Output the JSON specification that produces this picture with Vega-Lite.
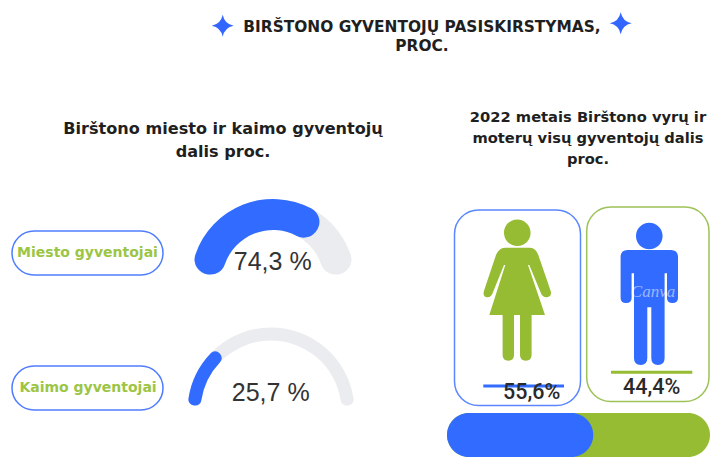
{
"width":710,"height":457,"autosize":{"type":"fit","contains":"padding"},"padding":0,
"background":"white",
"config":{"view":{"stroke":null}},
"datasets":{
"gauges":[{"label":"Miesto gyventojai","value":74.3,"total":100,"text":"74,3 %"},{"label":"Kaimo gyventojai","value":25.7,"total":100,"text":"25,7 %"}],
"sexes":[{"sex":"Moterys","value":55.6,"total":100,"text":"55,6%"},{"sex":"Vyrai","value":44.4,"total":100,"text":"44,4%"}],
"titles":[{"id":"main","text":"BIRŠTONO GYVENTOJŲ PASISKIRSTYMAS,\nPROC."},{"id":"left","text":"Birštono miesto ir kaimo gyventojų\ndalis proc."},{"id":"right","text":"2022 metais Birštono vyrų ir\nmoterų visų gyventojų dalis\nproc."}]
},
"data":{"name":"gauges"},
"resolve":{"scale":{"x":"independent","y":"independent","theta":"independent"}},
"layer":[
{"data":{"name":"titles"},"transform":[{"filter":"datum.id==='main'"}],
 "mark":{"type":"text","font":"DejaVu Sans","fontWeight":700,"fontSize":15.4,"lineBreak":"\n","lineHeight":19,"color":"#1f1f1f","align":"center","baseline":"middle"},
 "encoding":{"text":{"field":"text"},"x":{"datum":422,"type":"quantitative","axis":null,"scale":{"domain":[0,710],"range":[0,710]}},"y":{"datum":27,"type":"quantitative","axis":null,"scale":{"domain":[0,457],"range":[0,457]}}}},
{"data":{"name":"titles"},"transform":[{"filter":"datum.id==='main'"}],
 "mark":{"type":"point","filled":true,"size":4,"opacity":1,"color":"#3366ff","shape":"M0,-11 Q1.8,-1.8 11,0 Q1.8,1.8 0,11 Q-1.8,1.8 -11,0 Q-1.8,-1.8 0,-11 Z"},
 "encoding":{"x":{"datum":222.7,"type":"quantitative","axis":null,"scale":{"domain":[0,710],"range":[0,710]}},"y":{"datum":25.7,"type":"quantitative","axis":null,"scale":{"domain":[0,457],"range":[0,457]}}}},
{"data":{"name":"titles"},"transform":[{"filter":"datum.id==='main'"}],
 "mark":{"type":"point","filled":true,"size":4,"opacity":1,"color":"#3366ff","shape":"M0,-11 Q1.8,-1.8 11,0 Q1.8,1.8 0,11 Q-1.8,1.8 -11,0 Q-1.8,-1.8 0,-11 Z"},
 "encoding":{"x":{"datum":620.7,"type":"quantitative","axis":null,"scale":{"domain":[0,710],"range":[0,710]}},"y":{"datum":23.3,"type":"quantitative","axis":null,"scale":{"domain":[0,457],"range":[0,457]}}}},
{"data":{"name":"titles"},"transform":[{"filter":"datum.id==='left'"}],
 "mark":{"type":"text","font":"DejaVu Sans","fontWeight":700,"fontSize":16.1,"lineBreak":"\n","lineHeight":23,"color":"#1f1f1f","align":"center","baseline":"middle"},
 "encoding":{"text":{"field":"text"},"x":{"datum":223,"type":"quantitative","axis":null,"scale":{"domain":[0,710],"range":[0,710]}},"y":{"datum":128.5,"type":"quantitative","axis":null,"scale":{"domain":[0,457],"range":[0,457]}}}},
{"data":{"name":"titles"},"transform":[{"filter":"datum.id==='right'"}],
 "mark":{"type":"text","font":"DejaVu Sans","fontWeight":700,"fontSize":14.7,"lineBreak":"\n","lineHeight":21,"color":"#1f1f1f","align":"center","baseline":"middle"},
 "encoding":{"text":{"field":"text"},"x":{"datum":588,"type":"quantitative","axis":null,"scale":{"domain":[0,710],"range":[0,710]}},"y":{"datum":118,"type":"quantitative","axis":null,"scale":{"domain":[0,457],"range":[0,457]}}}},

{"transform":[{"filter":"datum.label==='Miesto gyventojai'"}],
 "mark":{"type":"rect","fill":"white","stroke":"#4f7dff","strokeWidth":1.5,"cornerRadius":22},
 "encoding":{"x":{"datum":12,"type":"quantitative","axis":null,"scale":{"domain":[0,710],"range":[0,710]}},"x2":{"datum":163},"y":{"datum":231,"type":"quantitative","axis":null,"scale":{"domain":[0,457],"range":[0,457]}},"y2":{"datum":275}}},
{"transform":[{"filter":"datum.label==='Kaimo gyventojai'"}],
 "mark":{"type":"rect","fill":"white","stroke":"#4f7dff","strokeWidth":1.5,"cornerRadius":22},
 "encoding":{"x":{"datum":12,"type":"quantitative","axis":null,"scale":{"domain":[0,710],"range":[0,710]}},"x2":{"datum":163},"y":{"datum":366,"type":"quantitative","axis":null,"scale":{"domain":[0,457],"range":[0,457]}},"y2":{"datum":410}}},
{"transform":[{"filter":"datum.label==='Miesto gyventojai'"}],
 "mark":{"type":"text","font":"DejaVu Sans","fontWeight":700,"fontSize":14,"color":"#9cc544","align":"center","baseline":"middle"},
 "encoding":{"text":{"field":"label"},"x":{"datum":87.5,"type":"quantitative","axis":null,"scale":{"domain":[0,710],"range":[0,710]}},"y":{"datum":253,"type":"quantitative","axis":null,"scale":{"domain":[0,457],"range":[0,457]}}}},
{"transform":[{"filter":"datum.label==='Kaimo gyventojai'"}],
 "mark":{"type":"text","font":"DejaVu Sans","fontWeight":700,"fontSize":14,"color":"#9cc544","align":"center","baseline":"middle"},
 "encoding":{"text":{"field":"label"},"x":{"datum":88,"type":"quantitative","axis":null,"scale":{"domain":[0,710],"range":[0,710]}},"y":{"datum":388,"type":"quantitative","axis":null,"scale":{"domain":[0,457],"range":[0,457]}}}},

{"transform":[{"filter":"datum.label==='Miesto gyventojai'"}],
 "mark":{"type":"arc","innerRadius":51,"outerRadius":82,"cornerRadius":15,"color":"#ebecef"},
 "encoding":{"theta":{"field":"total","type":"quantitative","stack":null,"scale":{"domain":[0,100],"range":[-1.47,1.47]}},"theta2":{"datum":0},"x":{"datum":273,"type":"quantitative","axis":null,"scale":{"domain":[0,710],"range":[0,710]}},"y":{"datum":281,"type":"quantitative","axis":null,"scale":{"domain":[0,457],"range":[0,457]}}}},
{"transform":[{"filter":"datum.label==='Miesto gyventojai'"}],
 "mark":{"type":"arc","innerRadius":51,"outerRadius":82,"cornerRadius":15,"color":"#316bff"},
 "encoding":{"theta":{"field":"value","type":"quantitative","stack":null,"scale":{"domain":[0,100],"range":[-1.47,1.47]}},"theta2":{"datum":0},"x":{"datum":273,"type":"quantitative","axis":null,"scale":{"domain":[0,710],"range":[0,710]}},"y":{"datum":281,"type":"quantitative","axis":null,"scale":{"domain":[0,457],"range":[0,457]}}}},
{"transform":[{"filter":"datum.label==='Kaimo gyventojai'"}],
 "mark":{"type":"arc","innerRadius":70.5,"outerRadius":83.5,"cornerRadius":6,"color":"#ebecef"},
 "encoding":{"theta":{"field":"total","type":"quantitative","stack":null,"scale":{"domain":[0,100],"range":[-1.5,1.5]}},"theta2":{"datum":0},"x":{"datum":271,"type":"quantitative","axis":null,"scale":{"domain":[0,710],"range":[0,710]}},"y":{"datum":411,"type":"quantitative","axis":null,"scale":{"domain":[0,457],"range":[0,457]}}}},
{"transform":[{"filter":"datum.label==='Kaimo gyventojai'"}],
 "mark":{"type":"arc","innerRadius":70.5,"outerRadius":83.5,"cornerRadius":6,"color":"#316bff"},
 "encoding":{"theta":{"field":"value","type":"quantitative","stack":null,"scale":{"domain":[0,100],"range":[-1.5,1.5]}},"theta2":{"datum":0},"x":{"datum":271,"type":"quantitative","axis":null,"scale":{"domain":[0,710],"range":[0,710]}},"y":{"datum":411,"type":"quantitative","axis":null,"scale":{"domain":[0,457],"range":[0,457]}}}},
{"transform":[{"filter":"datum.label==='Miesto gyventojai'"}],
 "mark":{"type":"text","font":"Liberation Sans","fontSize":25,"color":"#333333","align":"center","baseline":"middle"},
 "encoding":{"text":{"field":"text"},"x":{"datum":272.7,"type":"quantitative","axis":null,"scale":{"domain":[0,710],"range":[0,710]}},"y":{"datum":262,"type":"quantitative","axis":null,"scale":{"domain":[0,457],"range":[0,457]}}}},
{"transform":[{"filter":"datum.label==='Kaimo gyventojai'"}],
 "mark":{"type":"text","font":"Liberation Sans","fontSize":25,"color":"#333333","align":"center","baseline":"middle"},
 "encoding":{"text":{"field":"text"},"x":{"datum":270.7,"type":"quantitative","axis":null,"scale":{"domain":[0,710],"range":[0,710]}},"y":{"datum":393,"type":"quantitative","axis":null,"scale":{"domain":[0,457],"range":[0,457]}}}},

{"data":{"name":"sexes"},"transform":[{"filter":"datum.sex==='Moterys'"}],
 "mark":{"type":"rect","fill":"white","stroke":"#5a86ff","strokeWidth":1.5,"cornerRadius":24},
 "encoding":{"x":{"datum":454.5,"type":"quantitative","axis":null,"scale":{"domain":[0,710],"range":[0,710]}},"x2":{"datum":580.5},"y":{"datum":210,"type":"quantitative","axis":null,"scale":{"domain":[0,457],"range":[0,457]}},"y2":{"datum":405.5}}},
{"data":{"name":"sexes"},"transform":[{"filter":"datum.sex==='Vyrai'"}],
 "mark":{"type":"rect","fill":"white","stroke":"#9dc257","strokeWidth":1.5,"cornerRadius":24},
 "encoding":{"x":{"datum":586.7,"type":"quantitative","axis":null,"scale":{"domain":[0,710],"range":[0,710]}},"x2":{"datum":709},"y":{"datum":207,"type":"quantitative","axis":null,"scale":{"domain":[0,457],"range":[0,457]}},"y2":{"datum":401.5}}},
{"data":{"name":"sexes"},"transform":[{"filter":"datum.sex==='Moterys'"}],
 "mark":{"type":"point","filled":true,"size":4,"opacity":1,"color":"#96bc33","shape":"M-13.3,-67.3 A13.3,13.3 0 1 1 13.3,-67.3 A13.3,13.3 0 1 1 -13.3,-67.3 Z M-12.3,-52.3 L12.7,-52.3 Q18.5,-52 21,-45 L33.3,-9.3 Q35,-3.3 29.5,-2.8 Q25.5,-2.5 23.7,-6.7 L12,-35 L10.7,-35 L27.7,15 L14.3,15 L14.3,55 Q14.3,60.7 8.5,60.7 Q2.7,60.7 2.7,55 L2.7,15 L-3.3,15 L-3.3,55 Q-3.3,60.7 -9,60.7 Q-14.7,60.7 -14.7,55 L-14.7,15 L-28,15 L-12,-35 L-13.3,-35 L-24.7,-6.7 Q-26.5,-2.5 -30,-2.8 Q-35,-3.3 -33.3,-9.3 L-21.3,-45 Q-18.5,-52 -12.3,-52.3 Z"},
 "encoding":{"x":{"datum":517.3,"type":"quantitative","axis":null,"scale":{"domain":[0,710],"range":[0,710]}},"y":{"datum":300,"type":"quantitative","axis":null,"scale":{"domain":[0,457],"range":[0,457]}}}},
{"data":{"name":"sexes"},"transform":[{"filter":"datum.sex==='Vyrai'"}],
 "mark":{"type":"point","filled":true,"size":4,"opacity":1,"color":"#316bff","shape":"M-13.3,-64 A13.3,13.3 0 1 1 13.3,-64 A13.3,13.3 0 1 1 -13.3,-64 Z M-21.7,-50 L21.7,-50 Q28.7,-50 28.7,-43 L28.7,-2 Q28.7,3 23.2,3 Q17.7,3 17.7,-2 L17.7,-26.7 L15.3,-26.7 L15.3,58 Q15.3,65 8.65,65 Q2,65 2,58 L2,7.3 L-2,7.3 L-2,58 Q-2,65 -8.65,65 Q-15.3,65 -15.3,58 L-15.3,-26.7 L-17.7,-26.7 L-17.7,-2 Q-17.7,3 -23.2,3 Q-28.7,3 -28.7,-2 L-28.7,-43 Q-28.7,-50 -21.7,-50 Z"},
 "encoding":{"x":{"datum":649.3,"type":"quantitative","axis":null,"scale":{"domain":[0,710],"range":[0,710]}},"y":{"datum":300,"type":"quantitative","axis":null,"scale":{"domain":[0,457],"range":[0,457]}}}},
{"data":{"name":"sexes"},"transform":[{"filter":"datum.sex==='Vyrai'"}],
 "mark":{"type":"text","font":"Liberation Serif","fontStyle":"italic","fontSize":17,"color":"white","opacity":0.5,"align":"center","baseline":"middle"},
 "encoding":{"text":{"value":"Canva"},"x":{"datum":653,"type":"quantitative","axis":null,"scale":{"domain":[0,710],"range":[0,710]}},"y":{"datum":292,"type":"quantitative","axis":null,"scale":{"domain":[0,457],"range":[0,457]}}}},
{"data":{"name":"sexes"},"transform":[{"filter":"datum.sex==='Moterys'"}],
 "mark":{"type":"rule","color":"#316bff","strokeWidth":3},
 "encoding":{"x":{"datum":483.3,"type":"quantitative","axis":null,"scale":{"domain":[0,710],"range":[0,710]}},"x2":{"datum":564},"y":{"datum":386,"type":"quantitative","axis":null,"scale":{"domain":[0,457],"range":[0,457]}}}},
{"data":{"name":"sexes"},"transform":[{"filter":"datum.sex==='Vyrai'"}],
 "mark":{"type":"rule","color":"#96bc33","strokeWidth":3},
 "encoding":{"x":{"datum":611,"type":"quantitative","axis":null,"scale":{"domain":[0,710],"range":[0,710]}},"x2":{"datum":692.3},"y":{"datum":372.3,"type":"quantitative","axis":null,"scale":{"domain":[0,457],"range":[0,457]}}}},
{"data":{"name":"sexes"},"transform":[{"filter":"datum.sex==='Moterys'"}],
 "mark":{"type":"text","font":"Roboto","fontWeight":500,"fontSize":21.5,"color":"#2a2a2a","align":"center","baseline":"middle"},
 "encoding":{"text":{"field":"text"},"x":{"datum":531.7,"type":"quantitative","axis":null,"scale":{"domain":[0,710],"range":[0,710]}},"y":{"datum":393,"type":"quantitative","axis":null,"scale":{"domain":[0,457],"range":[0,457]}}}},
{"data":{"name":"sexes"},"transform":[{"filter":"datum.sex==='Vyrai'"}],
 "mark":{"type":"text","font":"Roboto","fontWeight":500,"fontSize":21.5,"color":"#2a2a2a","align":"center","baseline":"middle"},
 "encoding":{"text":{"field":"text"},"x":{"datum":651.7,"type":"quantitative","axis":null,"scale":{"domain":[0,710],"range":[0,710]}},"y":{"datum":388,"type":"quantitative","axis":null,"scale":{"domain":[0,457],"range":[0,457]}}}},
{"data":{"name":"sexes"},"transform":[{"filter":"datum.sex==='Vyrai'"}],
 "mark":{"type":"rect","fill":"#96bc33","cornerRadius":22},
 "encoding":{"x":{"field":"total","type":"quantitative","axis":null,"scale":{"domain":[0,100],"range":[447,710]}},"x2":{"datum":0},"y":{"datum":413,"type":"quantitative","axis":null,"scale":{"domain":[0,457],"range":[0,457]}},"y2":{"datum":457}}},
{"data":{"name":"sexes"},"transform":[{"filter":"datum.sex==='Moterys'"}],
 "mark":{"type":"rect","fill":"#316bff","cornerRadius":22},
 "encoding":{"x":{"field":"value","type":"quantitative","axis":null,"scale":{"domain":[0,100],"range":[447,710]}},"x2":{"datum":0},"y":{"datum":413,"type":"quantitative","axis":null,"scale":{"domain":[0,457],"range":[0,457]}},"y2":{"datum":457}}}
]
}
